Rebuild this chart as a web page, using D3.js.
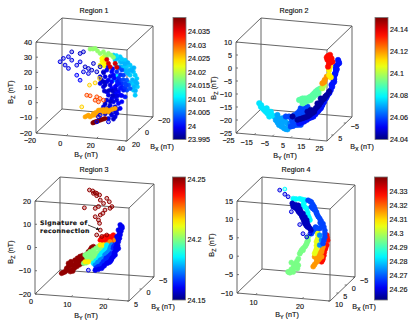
<!DOCTYPE html>
<html lang="en">
<head>
  <meta charset="UTF-8">
  <title>Regions 1-4</title>
  <script src="https://d3js.org/d3.v7.min.js"></script>
  <style>
    body { margin: 0; background: #fff; }
    svg { display: block; font-family: "Liberation Sans", Arial, sans-serif; }
    text { font-size: 7.2px; fill: #111; stroke: #111; stroke-width: 0.15; }
    .edge { stroke: #555; stroke-width: 0.9; fill: none; }
    .tick { stroke: #555; stroke-width: 0.8; }
    .packed { stroke-width: 0.6; }
    .open { stroke-width: 1; fill-opacity: 0.3; }
    .note { font-family: "DejaVu Sans", sans-serif; font-weight: bold; font-size: 6.2px; letter-spacing: 0.35px; }
  </style>
</head>
<body>
  <svg width="415" height="329"></svg>
  <script>
    // rows are [By, Bz, colour value]
    // ...Points are the packed parts of a cloud, ...Open the loose rings around them
    const region1Points = [
      [22.5,27.2,24.009],[26.9,26.5,24.009],[30.2,24.5,24.009],[33.5,21.5,24.009],[35.7,17.3,24.009],[37.9,13.1,24.009],
      [38.3,7.7,24.009],[36.8,2,24.009],[34.6,19.4,24.009],[31.3,20.2,24.009],[26.9,23.2,24.009],[29.1,20,24.009],
      [33.5,14.9,24.009],[34.6,9.5,24.009],[36.8,9.7,24.009],[35.7,5.2,24.009],[23.6,24,24.009],[36.8,15.2,24.009],
      [31,17,24.008],[27,20,24.008],[24,21,24.008],[33,10,24.008],[32,16,24.008],[35,12,24.008],[37,5,24.008],[30,22,24.008],[36,20,24.008],[28,23,24.008],
      [25,25,24.009],[28,25,24.009],[32,23,24.008],[34.5,18,24.008],[37,11,24.008],[36,7.5,24.008],[38,10,24.008],[33,18,24.008],[30,18,24.008],[24.5,27,24.01],
      [22.5,10.7,24.011],[24.7,13.5,24.011],
      [7.1,29.8,24.018],[10.4,30.5,24.018],[15.9,28.8,24.018],[19.2,28,24.018],[22.5,25.7,24.018],[18.1,25.7,24.018],[13.7,27.5,24.018],
      [9,30,24.018],[12,29,24.018],[17,27,24.018],[21,27,24.018],[16,25.5,24.02],
      [14.8,24.3,24.023],[15.9,21.1,24.023],[13.7,19.8,24.023],[18.1,21.3,24.023],[19.2,18.1,24.023],[15,22.5,24.023],[16.5,19.5,24.023],[17,23,24.024],
      [13.7,12.1,23.999],[17,12.4,23.999],[19.2,10.4,24],[22.5,14,24],[25.8,12.1,24.002],[29.1,14.5,24.003],[31.3,11.4,24.004],[32.4,8.2,24.004],
      [13.7,7.7,23.999],[15.9,5.7,23.999],[18.1,2.6,23.999],[21.4,5.1,24],[24.7,7.6,24],[28,9,24.002],
      [31.3,4.8,24.003],[33.5,6.1,24.004],[23.6,2,24],[26.9,1.2,24],[30.2,0.3,24.001],[21.4,-1.5,23.999],
      [24.7,-2.3,23.999],[28,-3.1,24],[18.1,-2.9,23.999],[20.3,-6,23.999],[23.6,-6.8,23.999],[26.9,-7.6,24],
      [15.9,-7.5,23.999],[18.1,-10.6,23.999],[21.4,-12.5,23.999],[24.7,-11.1,23.999],[19.2,-14.9,23.999],[23.6,-13.4,23.999],
      [18.1,16.9,24],[21.4,16.1,24],[24.7,16.4,24.002],[28,17.8,24.003],[21.4,9.5,24],[23.6,6.4,24],
      [26.9,5.6,24.001],[29.1,4.6,24.001],[19.2,0.5,23.999],[22.5,-3.6,23.999],[25.8,-4.4,24],[20.3,7.2,23.999],
      [30.2,9.1,24.003],[18.1,9.2,23.999],[26.9,11.1,24.002],[23.6,-0.2,23.999],[25.8,3.3,24],[20.3,-9.3,23.999],[23.6,-10.1,23.999],
      [14.5,10,23.998],[16,9,23.998],[17,7,23.998],[16.5,3,23.998],[19.5,3.5,23.998],[22,3.5,23.998],[24,4.5,23.999],[26,8.5,24.001],
      [28,6.5,24.001],[30,6.5,24.002],[25,10,24.001],[23,12,24],[20.5,13,23.999],[27,14.5,24.002],[31,8,24.003],[29,11.5,24.003],
      [28,1,24],[25,0.5,23.999],[22,0.5,23.998],[20.5,-3.5,23.998],[17,-5.5,23.998],[19,-8,23.998],[22,-8.5,23.998],[25,-8.5,23.999],
      [17,-12,23.998],[20.5,-11,23.998],[22.5,-15,23.998],[16,15,23.998],[19,19,23.999],[22,18,24],[26,19,24.003],
      [18.1,23.9,24.036],[19.2,21.4,24.036],[20.3,19.3,24.036],[23.6,21.8,24.036],[24.7,19.3,24.036],
      [3.8,-15.2,24.027],[7.1,-14.9,24.027],[10.4,-13.5,24.027],[13.7,-12.1,24.027],[17,-10.7,24.027],[20.3,-9.3,24.027],
      [23.6,-7.9,24.027],[6,-13.9,24.027],[9.3,-12.5,24.027],[12.6,-10,24.027],[15.9,-9.3,24.027],[19.2,-10.5,24.027],
      [5,-14.5,24.027],[8.5,-14,24.027],[12,-13,24.027],[15,-11,24.027],[18,-9,24.027],[22,-8.5,24.027],[11,-11.5,24.027],[14,-9.7,24.027],
      [8.9,-18.7,24.04],[10.4,-17.9,24.04],[12.6,-17,24.04],[14.8,-16,24.04],[17,-15.1,24.04],[9.7,-18.3,24.04],[11.5,-17.5,24.04],[13.7,-16.5,24.04],[16,-15.5,24.04]
    ];
    const region1Open = [
      [-12.7,19.7,23.999],[-10.5,22.1,23.999],[-7.2,23.5,23.999],[-5,26.9,23.998],[0.5,26.3,23.998],[2.7,27.6,23.998],
      [-5,21.4,23.999],[0.5,20.8,23.999],[-9.4,17.8,23.999],[-7.2,15.8,23.999],[-1.7,18.4,23.999],[3.8,17.8,23.998],
      [6,16.9,23.998],[9.3,20.5,23.998],[8.2,16,23.998],[11.5,15.2,23.998],[13.7,18.7,23.998],[15.9,15.6,23.998],
      [-1.7,11.8,24],[0.5,8.7,24],[2.7,14.4,23.999],[6,13.6,23.999],
      [13.7,-13.2,23.999],[12.6,-14.4,23.999],[19.2,-17.1,23.999],[11.5,-17.8,23.999],
      [4.9,-0.8,24.031],[7.1,-1,24.031],[11.5,-1.3,24.031],[13.7,-2.2,24.031],[10.4,-3.6,24.031],[12.6,-4.5,24.031],[15.9,-3.1,24.031],
      [6.7,6,24.025],[10.4,7.8,24.025],[13.3,11,24.025],[1.6,-8.8,24.025]
    ];

    const region2Points = [
      [-19.1,-17.8,24.077],[-18.2,-19.1,24.077],[-16.4,-20.2,24.077],[-14.6,-21.4,24.077],[-17.3,-19.6,24.077],[-12.7,-20.7,24.077],[-13.6,-22.6,24.077],[-10.9,-22.4,24.077],
      [-18,-18.5,24.077],[-15.5,-20.8,24.077],[-15,-19.5,24.077],[-13,-21.5,24.077],[-12,-22,24.077],
      [-10,-23.7,24.07],[-8.2,-25.5,24.07],[-5.4,-26.6,24.07],[-3.6,-26.9,24.07],[-7.2,-24.1,24.07],[-3.6,-24.6,24.07],[-9.1,-21.7,24.07],[-6.3,-22.8,24.07],
      [-9,-24.6,24.07],[-6.8,-26,24.07],[-4.5,-26.8,24.07],[-6.5,-25,24.07],[-8,-23,24.07],[-5,-23.7,24.07],[-2,-24.5,24.066],
      [-1.8,-25.7,24.06],[1,-24.9,24.06],[3.7,-24.7,24.06],[-0.8,-23.7,24.06],[1.9,-22.2,24.06],[4.7,-20.9,24.06],[5.6,-18.8,24.06],[7.4,-17.5,24.06],
      [1.9,-20.3,24.06],[3.7,-18.3,24.06],[-2.7,-21.9,24.06],[0.1,-21.2,24.06],[6.5,-20.8,24.06],[2.8,-23.5,24.06],[-4.5,-22,24.06],
      [-0.5,-25.4,24.06],[2.3,-24.8,24.06],[0.5,-23,24.06],[3.3,-21.5,24.06],[4.5,-19.5,24.06],[6.5,-18,24.06],[-1.3,-22.7,24.06],[3,-19.5,24.06],[5.5,-20,24.06],
      [2.8,-15.2,24.09],[4.7,-14.5,24.09],[7.4,-14.3,24.09],[9.2,-13.5,24.09],[11.1,-12.1,24.09],[12.9,-10.8,24.09],[14.7,-10,24.09],[6.5,-15.6,24.09],[9.2,-14.8,24.09],[4.7,-16.4,24.09],[12,-12.7,24.09],
      [3.7,-14.9,24.09],[6,-14.4,24.09],[8.3,-13.9,24.09],[10.2,-12.8,24.09],[12,-11.4,24.09],[13.8,-10.4,24.09],[5.6,-16,24.09],[7.8,-15.2,24.09],[10.6,-13.7,24.09],[13.5,-11.9,24.09],
      [15.6,-9.9,24.1],[16.6,-8.6,24.1],
      [24.2,1.5,24.054],[24.8,0.3,24.054],[23,-1.1,24.054],[23,-3,24.054],[22.1,-5,24.054],[22.1,-7,24.054],[20.6,-8.3,24.054],[20.2,-10.3,24.054],
      [18.4,-12.3,24.054],[17.5,-13.7,24.054],[15.6,-16.3,24.054],[14.7,-17.7,24.054],[12.9,-19.1,24.054],[10.7,-21.1,24.054],[8.3,-21.9,24.054],[5.6,-23.3,24.054],[2.8,-24.2,24.054],
      [23.5,-2.1,24.054],[22.4,-4,24.054],[21.7,-6.1,24.054],[21.3,-7.7,24.054],[19.5,-11.4,24.054],[16.6,-15,24.054],[13.8,-18.3,24.054],
      [24.5,0.9,24.054],[23.8,-0.4,24.054],[23,-2,24.054],[22.7,-4,24.054],[22.1,-6,24.054],[21,-9,24.054],[19,-11.8,24.054],[18,-13,24.054],
      [16,-15.6,24.054],[15.1,-17,24.054],[13.3,-18.7,24.054],[11.8,-20.1,24.054],[9.5,-21.5,24.054],[7,-22.6,24.054],[4.2,-23.8,24.054],
      [-0.8,-21.8,24.043],[1.9,-22.9,24.043],[4.7,-22.1,24.043],[7.4,-21.3,24.043],[10.1,-19.8,24.043],[12,-17.8,24.043],[13.8,-16.4,24.043],[15.6,-14.4,24.043],
      [9.2,-18.6,24.043],[7.4,-19.4,24.043],[11.1,-19.2,24.043],[12.9,-15.9,24.043],[14.7,-13.9,24.043],[19.3,-11,24.043],[16.6,-13.8,24.043],
      [3.3,-22.5,24.043],[6,-21.7,24.043],[8.7,-20.6,24.043],[11,-18.7,24.043],[12.9,-17.1,24.043],[14.7,-15.4,24.043],[16,-14,24.043],[18,-12.4,24.043],[17.2,-13,24.043],
      [15.6,-8,24.12],[16.9,-6.6,24.12],[18,-5.3,24.12],[16.6,-7.4,24.12],
      [19.3,-4.6,24.11],[19.3,-2.7,24.11],[19.8,-1.3,24.11],[20.2,-5.4,24.11],
      [18.7,2.7,24.135],[19.8,3.2,24.135],[20.6,1.9,24.135],[18.4,1.2,24.135],[19.3,-0.1,24.135],[21.1,0.6,24.135],[18.7,-1.4,24.135],[18,2.1,24.135],[19.7,1.2,24.135],[19,1.9,24.135],[20,0.3,24.135],[19.2,2.4,24.135]
    ];
    const region2Open = [];

    const region3Points = [
      [3.9,-15.8,24.25],[4.9,-15,24.25],[5.8,-12.7,24.25],[7.2,-11.8,24.25],[8.6,-10.3,24.25],[10,-8.7,24.25],[11.3,-5.7,24.25],[12.7,-3.3,24.25],[5.3,-13.5,24.25],
      [6.7,-14.1,24.25],[8.1,-12.4,24.25],[9.5,-10.9,24.25],[10.9,-7.8,24.25],[11.8,-4.9,24.25],[5.8,-11.3,24.25],[7.6,-9.7,24.25],[9,-8,24.25],[6.3,-14.8,24.25],
      [4.4,-15.4,24.25],[5.5,-14.2,24.25],[6.5,-12.2,24.25],[7.9,-11,24.25],[9.3,-9.5,24.25],[10.6,-7.2,24.25],[12,-4.5,24.25],[7.4,-13.2,24.25],[8.8,-11.6,24.25],
      [10.2,-9.8,24.25],[11.1,-6.8,24.25],[6.5,-10.5,24.25],[8.3,-8.8,24.25],[9.7,-7.5,24.25],[12.2,-3.8,24.25],[7,-14.5,24.25],
      [14.6,-0.3,24.238],[15.9,1.4,24.238],[17.3,1.5,24.238],[18.7,1,24.238],[17.8,-0.6,24.238],[16.4,-0.1,24.238],[15.5,-1.6,24.238],[18.2,2.3,24.238],
      [15,0.6,24.238],[16.6,1.4,24.238],[18,1.3,24.238],[17,0.5,24.238],[15.8,-0.8,24.238],
      [17.3,-0.7,24.225],[18.7,0.2,24.225],[16.4,-1.9,24.225],
      [10.4,-7.2,24.2],[11.3,-6.4,24.2],[12.7,-4.8,24.2],[14.1,-3.1,24.2],[15.5,-3,24.2],[11.3,-9.3,24.2],[12.7,-8.4,24.2],[14.1,-6,24.2],[15.5,-4.5,24.2],[10,-10.8,24.2],[13.2,-6.2,24.2],[14.6,-4.6,24.2],[11.8,-7.7,24.2],
      [10.9,-8.2,24.2],[11.8,-5.6,24.2],[13.4,-4,24.2],[14.8,-3.5,24.2],[12,-9,24.2],[13.4,-7.2,24.2],[14.8,-5.2,24.2],[12.5,-6.5,24.2],[10.7,-10.5,24.2],[11,-6.8,24.2],
      [10.4,-10.1,24.215],[11.3,-10,24.215],[14.6,-2.4,24.215],[15.5,-2.3,24.215],
      [16.4,-2.2,24.185],[16.9,-3.6,24.185],[15,-5.9,24.185],[14.1,-8.2,24.185],[12.7,-10.5,24.185],[15.9,-4.4,24.185],
      [15.5,-7,24.18],[14.5,-7,24.185],[13.4,-9.4,24.185],[16.4,-3,24.185],[15.5,-5.2,24.185],
      [17.8,-2,24.175],[16.9,-5,24.175],[15.9,-6.5,24.175],[14.6,-8.9,24.175],[13.2,-11.2,24.175],[17.3,-3.6,24.175],[15.5,-8.1,24.175],
      [16.4,-5.8,24.175],[15,-8.5,24.175],[13.9,-10,24.175],[17.5,-2.8,24.175],
      [18.7,-1.9,24.165],[17.8,-5.6,24.165],[16.9,-7.1,24.165],[15.5,-9.5,24.165],[14.1,-11.7,24.165],[18.2,-3.5,24.165],[16.4,-8.7,24.165],
      [18.3,-2.7,24.165],[17.4,-6.4,24.165],[16.2,-7.9,24.165],[15,-10.6,24.165],[13.5,-12.4,24.165],
      [20.1,6.9,24.16],[20.6,5.5,24.16],[19.6,4.6,24.16],[20.1,2.6,24.16],[19.2,1.7,24.16],[19.6,-0.4,24.16],[18.7,-4.8,24.16],[17.8,-7.8,24.16],[16.4,-10.1,24.16],
      [15,-12.4,24.16],[13.2,-13.4,24.16],[20.6,6.2,24.16],[19.6,-3.3,24.16],[19.2,-2.6,24.16],[17.3,-9.3,24.16],[18.7,-6.2,24.16],[19.9,1.1,24.16],[19.2,-1.6,24.16],
      [20.3,4.2,24.16],[19.9,3.3,24.16],[19.6,0.7,24.16],[19.4,-2,24.16],[19.1,-4,24.16],[18.2,-7,24.16],[17.6,-8.6,24.16],[16.9,-9.7,24.16],[15.7,-11.2,24.16],[14.1,-12.9,24.16],[20.3,5.9,24.16],[19.6,2,24.16],[18.5,-5.5,24.16],[18.9,-3,24.16]
    ];
    const region3Open = [
      [11.6,20.9,24.25],[12.5,20.6,24.25],[13.2,19.9,24.25],[13.6,19.7,24.25],[14.4,19.1,24.25],[12.7,19.6,24.25],[13.6,18.7,24.25],[16.4,17.9,24.25],[17.1,16.5,24.25],
      [17.8,14.5,24.25],[14.6,16.9,24.25],[15.5,15.6,24.25],[14.1,14.1,24.25],[13.2,13.2,24.25],[10.2,13.1,24.25],[14.6,10.5,24.25],[13.2,9.6,24.25],[15.9,12.8,24.25],
      [17.3,13.7,24.25],[15.3,11.3,24.25],[14.1,8.3,24.25],[14.4,6.9,24.25],[14.6,4,24.25],[13.6,1.8,24.25],[15,1.3,24.25],[16.4,2.1,24.25],
      [11.3,-13.6,24.16]
    ];

    const region4Points = [
      [15.4,13.4,24.284],[16.8,13.5,24.284],[17.9,13.3,24.284],[17.5,11.8,24.284],[18.3,11,24.284],[18.6,9.2,24.284],[19,8,24.284],
      [16,13.4,24.284],[17.3,13.4,24.284],[17.7,12.5,24.284],[17.9,11.4,24.284],[18.5,10,24.284],[18.8,8.6,24.284],
      [18.6,2.4,24.295],[18.3,1.5,24.295],[17.9,0.6,24.295],[17.2,-0.4,24.295],[16.8,-1.4,24.295],[17.5,-0.4,24.295],[16.5,-2.8,24.295],[15.9,-4.2,24.295],
      [15,-4,24.295],[16.5,-4.6,24.295],[15.4,-5.6,24.295],[14.7,-6.8,24.295],[15.4,-6.5,24.295],[18.6,3.3,24.295],[14.3,-6.6,24.295],[16.3,-5.5,24.295],
      [18.4,2,24.295],[18.1,1,24.295],[17.5,0.1,24.295],[17,-0.9,24.295],[16.2,-3.5,24.295],[15.5,-4.8,24.295],[15,-5.8,24.295],[16,-5,24.295],[14.5,-6.7,24.295],
      [22.6,4.3,24.328],[22.8,2.9,24.328],[22.3,0.5,24.328],[22,-1.3,24.328],[21.5,-3.1,24.328],[21.8,-2.2,24.328],[22.6,1.6,24.328],[22.7,3.6,24.328],[22.4,1,24.328],[22.1,-0.4,24.328],[21.7,-2.6,24.328],
      [21.8,1,24.316],[21.5,-0.4,24.316],[20.8,-0.9,24.316],[20,-1.9,24.316],[20.8,-2.7,24.316],[19.7,-4.6,24.316],[20.4,-3.3,24.316],[21.5,-1.7,24.316],
      [21.6,0.3,24.316],[21.1,-0.7,24.316],[20.4,-1.4,24.316],[20.4,-2.3,24.316],[21.1,-2.2,24.316],[20,-4,24.316],[20.6,-1.8,24.316],
      [20.6,5,24.305],[20.8,3.6,24.305],[20.4,2.2,24.305],[20.4,0.3,24.305],[20,-1,24.305],[20.7,4.3,24.305],[20.6,2.9,24.305],[20.4,1.2,24.305],[20.2,-0.4,24.305],
      [21.1,4.1,24.274],[21.5,2.8,24.274],[21.1,1.4,24.274],
      [18.6,13.3,24.268],[19.3,12.9,24.268],[19.9,11.7,24.268],[20.4,10.3,24.268],[21.1,8.6,24.268],[21.8,7.3,24.268],[22.2,5.5,24.268],[22.2,3.7,24.268],[21.8,1.9,24.268],
      [19.3,11.6,24.268],[20,10.8,24.268],[20.8,9.1,24.268],[21.5,6.4,24.268],[21.1,5.9,24.268],[20.2,6.2,24.268],[19.7,5.3,24.268],[19.3,4.3,24.268],
      [19,13.1,24.268],[19.6,12.3,24.268],[20.1,11,24.268],[20.6,9.5,24.268],[21.4,8,24.268],[22,6.4,24.268],[22.2,4.6,24.268],[22,2.8,24.268],[19.6,11.2,24.268],[20.4,10,24.268],[21.2,7.5,24.268],[20.6,6,24.268],[20,5.7,24.268],[19.5,4.8,24.268],
      [15.2,12.1,24.257],[15.6,11.2,24.257],[16.1,10.8,24.257],[16.6,9.9,24.257],[17.2,9.1,24.257],[17.5,8.2,24.257],[17.9,6.9,24.257],[18.5,6,24.257],[16.5,11.7,24.257],
      [15.9,11.8,24.257],[16.8,10.8,24.257],[17.5,9.6,24.257],[18.3,7.9,24.257],[18.6,6.5,24.257],[19,5.7,24.257],[15.4,11.2,24.257],
      [15.4,11.7,24.257],[15.9,11,24.257],[16.4,10.3,24.257],[16.9,9.5,24.257],[17.3,8.7,24.257],[17.7,7.5,24.257],[18.2,6.4,24.257],[16.2,11.2,24.257],[17,10.2,24.257],[17.9,8.7,24.257],[18.4,7.2,24.257],[18.8,6,24.257],[19.2,5.2,24.257]
    ];
    const region4Open = [
      [13.6,15.8,24.284],
      [12.5,15.4,24.26],[13.6,14.4,24.26],[14.3,13.8,24.26],[15,9.8,24.26],[16.8,6.5,24.26],[17.5,4.1,24.26],[18.3,3.3,24.26],[19,4.3,24.26]
    ];

    const region1ByTicks = [-20, 0, 20, 40];
    const region1BxTicks = [-20, 0, 20];
    const region1BzTicks = [-20, -10, 0, 10, 20, 30, 40];
    const region1BarTicks = [23.995, 24, 24.005, 24.01, 24.015, 24.02, 24.025, 24.03, 24.035];

    const region2ByTicks = [-25, -15, -5, 5, 15, 25];
    const region2BxTicks = [-5, 5];
    const region2BzTicks = [-25, -20, -15, -10, -5, 0, 5, 10];
    const region2BarTicks = [24.04, 24.06, 24.08, 24.1, 24.12, 24.14];

    const region3ByTicks = [0, 10, 20];
    const region3BxTicks = [-5, 0, 5];
    const region3BzTicks = [-20, -10, 0, 10, 20];
    const region3BarTicks = [24.15, 24.2, 24.25];

    const region4ByTicks = [10, 20];
    const region4BxTicks = [-5, 0, 5, 10];
    const region4BzTicks = [-10, -5, 0, 5, 10, 15];
    const region4BarTicks = [24.26, 24.27, 24.28, 24.29, 24.3, 24.31, 24.32, 24.33];

    const svg = d3.select("svg");

    // jet colour map, dark blue to dark red
    const jet = d3.scaleLinear()
      .domain([0, 0.11, 0.36, 0.62, 0.87, 1])
      .range(["#00007f", "#0000ff", "#00ffff", "#ffff00", "#ff0000", "#7f0000"])
      .clamp(true);

    function subLabel(g, x, y, sub, rotate) {
      const t = g.append("text")
        .attr("text-anchor", "middle")
        .attr("transform", `translate(${x},${y})` + (rotate ? " rotate(-90)" : ""));
      t.append("tspan").text("B");
      t.append("tspan").attr("dy", 2).style("font-size", "5.4px").text(sub);
      t.append("tspan").attr("dy", -2).text(" (nT)");
    }

    function drawRegion(r) {
      const g = svg.append("g");
      const by = d3.scaleLinear().domain(r.byDomain).range([0, 1]);
      const bx = d3.scaleLinear().domain(r.bxDomain).range([1, 0]);
      const bz = d3.scaleLinear().domain(r.bzDomain).range([0, 1]);

      const px = (a, b) => r.x0 + by(a) * r.w + bx(b) * r.dx;
      const py = (a, b, c) => r.y0 + by(a) * r.slope - bx(b) * r.dy - bz(c) * r.h;

      const [y0, y1] = r.byDomain, [x0, x1] = r.bxDomain, [z0, z1] = r.bzDomain;
      const edge = (a, b) => g.append("line").attr("class", "edge")
        .attr("x1", px(a[0], a[1])).attr("y1", py(a[0], a[1], a[2]))
        .attr("x2", px(b[0], b[1])).attr("y2", py(b[0], b[1], b[2]));

      // the twelve edges of the box
      [x0, x1].forEach(b => [z0, z1].forEach(c => edge([y0, b, c], [y1, b, c])));
      [y0, y1].forEach(a => [z0, z1].forEach(c => edge([a, x0, c], [a, x1, c])));
      [y0, y1].forEach(a => [x0, x1].forEach(b => edge([a, b, z0], [a, b, z1])));

      // By ticks along the front bottom edge
      r.byTicks.forEach(v => {
        g.append("line").attr("class", "tick")
          .attr("x1", px(v, x1)).attr("y1", py(v, x1, z0))
          .attr("x2", px(v, x1) + 1.5).attr("y2", py(v, x1, z0) - 1.5);
        g.append("text").attr("text-anchor", "middle")
          .attr("x", px(v, x1) + r.byDx).attr("y", py(v, x1, z0) + 10)
          .text(String(v).replace("-", "\u2212"));
      });

      // Bx ticks along the right bottom edge
      r.bxTicks.forEach(v => {
        g.append("line").attr("class", "tick")
          .attr("x1", px(y1, v)).attr("y1", py(y1, v, z0))
          .attr("x2", px(y1, v) - 2).attr("y2", py(y1, v, z0));
        g.append("text")
          .attr("x", px(y1, v) + 5).attr("y", py(y1, v, z0) + 6)
          .text(String(v).replace("-", "\u2212"));
      });

      // Bz ticks up the front left edge
      r.bzTicks.forEach(v => {
        g.append("line").attr("class", "tick")
          .attr("x1", px(y0, x1)).attr("y1", py(y0, x1, v))
          .attr("x2", px(y0, x1) + 2).attr("y2", py(y0, x1, v));
        g.append("text").attr("text-anchor", "end")
          .attr("x", px(y0, x1) - 4).attr("y", py(y0, x1, v) + 2.5)
          .text(String(v).replace("-", "\u2212"));
      });

      const colour = d3.scaleLinear().domain(r.barDomain).range([0, 1]);
      const cloud = (rows, cls, radius) => g.selectAll("circle." + cls)
        .data(rows)
        .enter().append("circle")
        .attr("class", cls)
        .attr("r", radius)
        .attr("cx", d => px(d[0], r.depth))
        .attr("cy", d => py(d[0], r.depth, d[1]))
        .attr("stroke", d => jet(colour(d[2])))
        .attr("fill", d => jet(colour(d[2])));

      cloud(r.points, "packed", r.radius);
      cloud(r.open, "open", 1.9);

      // colour bar
      const gradId = "bar" + r.name.slice(-1);
      const grad = svg.append("defs").append("linearGradient")
        .attr("id", gradId).attr("x1", 0).attr("y1", 1).attr("x2", 0).attr("y2", 0);
      d3.range(0, 1.001, 0.05).forEach(t => {
        grad.append("stop").attr("offset", t).attr("stop-color", jet(t));
      });
      const barY = d3.scaleLinear().domain(r.barDomain).range([r.barBottom, r.barTop]);
      g.append("rect")
        .attr("x", r.barX).attr("y", r.barTop)
        .attr("width", 13).attr("height", r.barBottom - r.barTop)
        .attr("fill", `url(#${gradId})`)
        .attr("stroke", "#777").attr("stroke-width", 0.8);
      r.barTicks.forEach(v => {
        g.append("text")
          .attr("x", r.barX + r.barLabelDx).attr("y", barY(v) + 2.5)
          .text(v);
      });

      g.append("text").attr("text-anchor", "middle")
        .attr("x", r.titleX).attr("y", r.titleY).text(r.name);
      subLabel(g, r.byLabel[0], r.byLabel[1], "Y");
      subLabel(g, r.bxLabel[0], r.bxLabel[1], "X");
      subLabel(g, r.bzLabel[0], r.bzLabel[1], "Z", true);
    }

    drawRegion({
      name: "Region 1", points: region1Points, open: region1Open, depth: 0, radius: 2.1,
      byDomain: [-20, 40], bxDomain: [-20, 20], bzDomain: [-20, 40],
      byTicks: region1ByTicks, bxTicks: region1BxTicks, bzTicks: region1BzTicks,
      barDomain: [23.995, 24.0402], barTicks: region1BarTicks,
      x0: 36, y0: 133, w: 91, slope: 8, dx: 26, dy: 24, h: 91, byDx: -6,
      barX: 173, barTop: 17.5, barBottom: 139.5, barLabelDx: 15,
      titleX: 94, titleY: 13, byLabel: [86, 157], bxLabel: [162, 149], bzLabel: [13, 92]
    });

    drawRegion({
      name: "Region 2", points: region2Points, open: region2Open, depth: 0, radius: 2.7,
      byDomain: [-25, 25], bxDomain: [-10, 10], bzDomain: [-25, 10],
      byTicks: region2ByTicks, bxTicks: region2BxTicks, bzTicks: region2BzTicks,
      barDomain: [24.04, 24.1505], barTicks: region2BarTicks,
      x0: 236, y0: 133, w: 91, slope: 8, dx: 25, dy: 24, h: 91, byDx: -7.5,
      barX: 375, barTop: 17.5, barBottom: 139.5, barLabelDx: 15,
      titleX: 294, titleY: 13, byLabel: [285, 158], bxLabel: [362, 149], bzLabel: [216, 88]
    });

    drawRegion({
      name: "Region 3", points: region3Points, open: region3Open, depth: 0, radius: 2.4,
      byDomain: [0, 26], bxDomain: [-5, 5], bzDomain: [-20, 20],
      byTicks: region3ByTicks, bxTicks: region3BxTicks, bzTicks: region3BzTicks,
      barDomain: [24.15, 24.252], barTicks: region3BarTicks,
      x0: 35, y0: 294, w: 94, slope: 7, dx: 25, dy: 24, h: 93, byDx: -4,
      barX: 172.5, barTop: 177, barBottom: 300, barLabelDx: 15,
      titleX: 94, titleY: 172, byLabel: [86, 318], bxLabel: [163, 309], bzLabel: [13, 252]
    });

    drawRegion({
      name: "Region 4", points: region4Points, open: region4Open, depth: 2.5, radius: 2.5,
      byDomain: [6, 26], bxDomain: [-5, 10], bzDomain: [-10, 15],
      byTicks: region4ByTicks, bxTicks: region4BxTicks, bzTicks: region4BzTicks,
      barDomain: [24.2524, 24.3405], barTicks: region4BarTicks,
      x0: 237, y0: 293, w: 93, slope: 8, dx: 25, dy: 24, h: 92, byDx: -2,
      barX: 374.5, barTop: 177, barBottom: 300, barLabelDx: 15,
      titleX: 296, titleY: 172, byLabel: [287, 317], bxLabel: [364, 309], bzLabel: [214, 245]
    });

    // note on region 3
    svg.append("defs").append("marker")
      .attr("id", "head").attr("viewBox", "0 0 6 6").attr("refX", 5).attr("refY", 3)
      .attr("markerWidth", 4).attr("markerHeight", 4).attr("orient", "auto")
      .append("path").attr("d", "M0,0L6,3L0,6Z").attr("fill", "#111");
    svg.append("text").attr("class", "note").attr("x", 40).attr("y", 225).text("Signature of");
    svg.append("text").attr("class", "note").attr("x", 40).attr("y", 233).text("reconnection");
    svg.append("line")
      .attr("x1", 88).attr("y1", 225).attr("x2", 99).attr("y2", 229.5)
      .attr("stroke", "#111").attr("stroke-width", 0.8).attr("marker-end", "url(#head)");
  </script>
</body>
</html>
